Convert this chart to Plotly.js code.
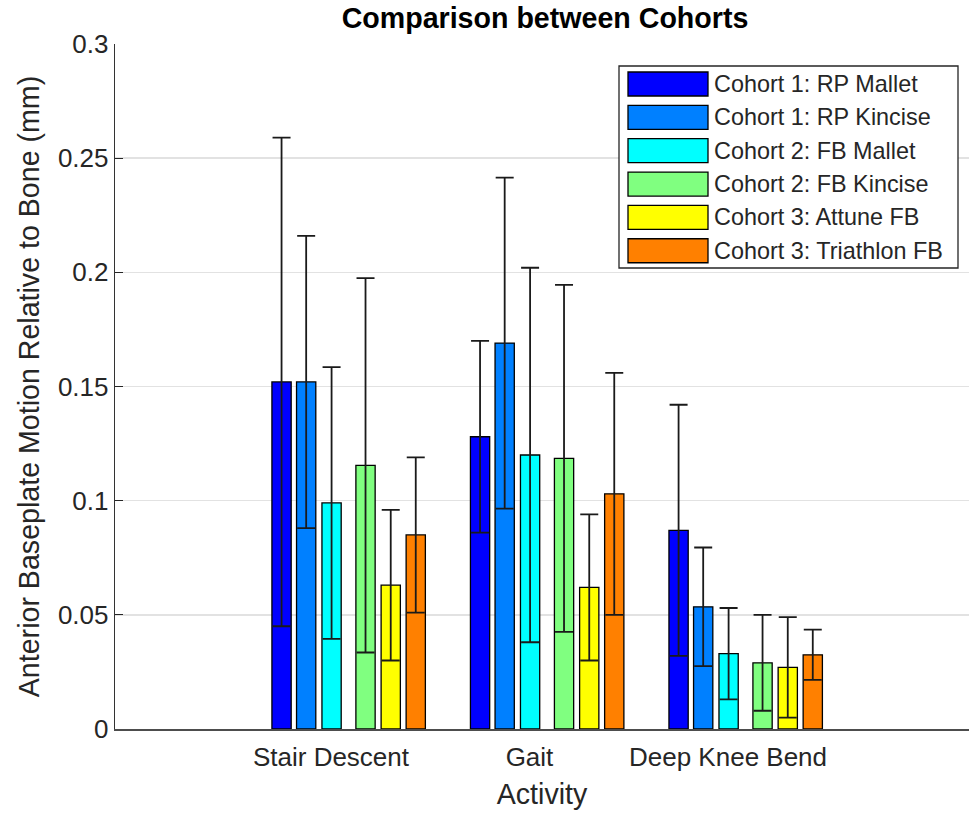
<!DOCTYPE html>
<html>
<head>
<meta charset="utf-8">
<script src="https://cdn.plot.ly/plotly-3.0.1.min.js"></script>
<style>
  html, body { margin: 0; padding: 0; background: #ffffff; }
  #chart { width: 969px; height: 815px; }
</style>
</head>
<body>
<div id="chart"></div>
<script>
// Activities along the x axis
const activities = ['Stair Descent', 'Gait', 'Deep Knee Bend'];

// Series (one bar per activity), in legend order
const seriesNames = [
  'Cohort 1: RP Mallet',
  'Cohort 1: RP Kincise',
  'Cohort 2: FB Mallet',
  'Cohort 2: FB Kincise',
  'Cohort 3: Attune FB',
  'Cohort 3: Triathlon FB'
];
const seriesColors = ['#0000ff', '#0080ff', '#00ffff', '#80ff80', '#ffff00', '#ff8000'];

// Mean anterior baseplate motion (mm) per activity
const rpMalletMean     = [0.152, 0.128, 0.087];
const rpKinciseMean    = [0.152, 0.169, 0.0535];
const fbMalletMean     = [0.099, 0.120, 0.033];
const fbKinciseMean    = [0.1155, 0.1185, 0.029];
const attuneFbMean     = [0.063, 0.062, 0.027];
const triathlonFbMean  = [0.085, 0.103, 0.0325];

// Standard deviation (mm) per activity
const rpMalletSd    = [0.107, 0.042, 0.055];
const rpKinciseSd   = [0.064, 0.0725, 0.026];
const fbMalletSd    = [0.0595, 0.082, 0.020];
const fbKinciseSd   = [0.082, 0.076, 0.021];
const attuneFbSd    = [0.033, 0.032, 0.022];
const triathlonFbSd = [0.034, 0.053, 0.011];

// Y axis ticks
const yTickVals = [0, 0.05, 0.1, 0.15, 0.2, 0.25, 0.3];
const yTickText = ['0', '0.05', '0.1', '0.15', '0.2', '0.25', '0.3'];

const means = [rpMalletMean, rpKinciseMean, fbMalletMean, fbKinciseMean, attuneFbMean, triathlonFbMean];
const sds   = [rpMalletSd, rpKinciseSd, fbMalletSd, fbKinciseSd, attuneFbSd, triathlonFbSd];

// Bar layout within each activity group (x axis units, tick at 0)
const barCenterOffsets = [-0.249, -0.125, 0.003, 0.174, 0.301, 0.427];
const barWidth = 0.097;

const FONT = 'Liberation Sans, Arial, Helvetica, sans-serif';
const INK = '#262626';

const traces = seriesNames.map((name, s) => ({
  type: 'bar',
  name: name,
  x: activities.map((_, i) => i + barCenterOffsets[s]),
  y: means[s],
  width: barWidth,
  marker: { color: seriesColors[s], line: { color: '#000000', width: 1.3 } },
  error_y: {
    type: 'data',
    array: sds[s],
    visible: true,
    symmetric: true,
    color: '#1a1a1a',
    thickness: 1.8,
    width: 9
  },
  showlegend: false,
  hoverinfo: 'x+y'
}));

// Plot-area geometry (px) for the boxed legend
const M = { l: 115, r: 0, t: 44, b: 86 };
const W = 969, H = 815;
const plotW = W - M.l - M.r, plotH = H - M.t - M.b;
const px2x = px => (px - M.l) / plotW;
const py2y = py => (H - M.b - py) / plotH;

const shapes = [];
const annotations = [];

// legend frame
shapes.push({
  type: 'rect', xref: 'paper', yref: 'paper', layer: 'above',
  x0: px2x(619), x1: px2x(958), y0: py2y(268), y1: py2y(66),
  fillcolor: '#ffffff', line: { color: INK, width: 1.3 }
});
seriesNames.forEach((name, s) => {
  const cy = 84 + s * 33.35;
  shapes.push({
    type: 'rect', xref: 'paper', yref: 'paper', layer: 'above',
    x0: px2x(628), x1: px2x(708), y0: py2y(cy + 12), y1: py2y(cy - 12),
    fillcolor: seriesColors[s], line: { color: '#000000', width: 1.3 }
  });
  annotations.push({
    xref: 'paper', yref: 'paper', x: px2x(712), y: py2y(cy),
    xanchor: 'left', yanchor: 'middle', showarrow: false,
    text: name, font: { family: FONT, size: 23.4, color: INK }
  });
});

const layout = {
  width: W, height: H,
  margin: M,
  paper_bgcolor: '#ffffff',
  plot_bgcolor: '#ffffff',
  barmode: 'overlay',
  font: { family: FONT, size: 26, color: INK },
  title: {
    text: 'Comparison between Cohorts',
    font: { family: FONT, size: 28.6, color: '#000000', weight: 'bold' },
    xref: 'paper', x: px2x(545), xanchor: 'center',
    yref: 'container', y: 1 - 18 / H, yanchor: 'middle'
  },
  xaxis: {
    range: [-1.088, 3.214],
    tickvals: [0, 1, 2],
    ticktext: activities,
    ticks: '',
    ticklabelstandoff: 4,
    showgrid: false,
    zeroline: false,
    showline: true, linecolor: '#4d4d4d', linewidth: 1.5,
    tickfont: { family: FONT, size: 26, color: INK },
    title: { text: 'Activity', font: { family: FONT, size: 28.6, color: INK }, standoff: 13 },
    automargin: false
  },
  yaxis: {
    range: [0, 0.3],
    tickvals: yTickVals,
    ticktext: yTickText,
    ticks: 'inside', ticklen: 8, tickcolor: INK, tickwidth: 1,
    showgrid: true, gridcolor: '#e2e2e2', gridwidth: 1.5,
    zeroline: false,
    showline: true, linecolor: '#333333', linewidth: 1.3,
    tickfont: { family: FONT, size: 26, color: INK },
    title: { text: 'Anterior Baseplate Motion Relative to Bone (mm)', font: { family: FONT, size: 28.6, color: INK }, standoff: 10 },
    automargin: false
  },
  shapes: shapes,
  annotations: annotations
};

Plotly.newPlot('chart', traces, layout, { displayModeBar: false, staticPlot: true });
</script>
</body>
</html>
